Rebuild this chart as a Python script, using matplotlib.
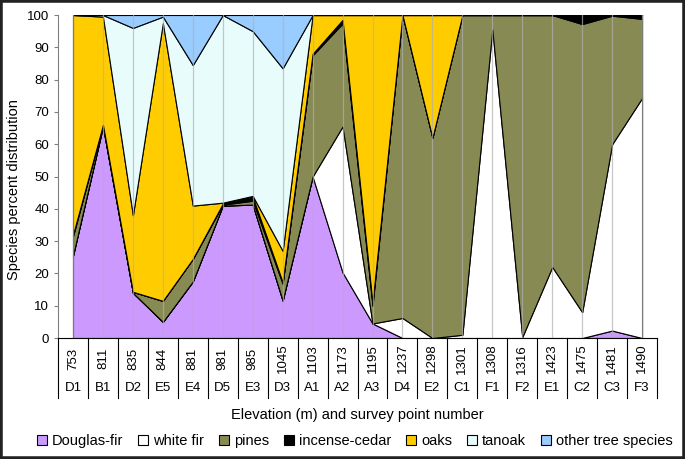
import numpy as np
import matplotlib.pyplot as plt
from matplotlib.patches import Rectangle, Patch
from matplotlib.lines import Line2D

plt.rcParams['font.family'] = ['Liberation Sans', 'DejaVu Sans']

elevation = [753, 811, 835, 844, 881, 981, 985, 1045, 1103, 1173, 1195,
             1237, 1298, 1301, 1308, 1316, 1423, 1475, 1481, 1490]
points = ['D1', 'B1', 'D2', 'E5', 'E4', 'D5', 'E3', 'D3', 'A1', 'A2', 'A3',
          'D4', 'E2', 'C1', 'F1', 'F2', 'E1', 'C2', 'C3', 'F3']

douglas_fir = [25.5, 65.5, 14, 5, 17.5, 41, 41.3, 11.6, 50, 20.3, 4.5,
               0, 0, 0, 0, 0, 0, 0, 2.3, 0]
white_fir = [0, 0, 0, 0, 0, 0, 0, 0, 0, 45.2, 0,
             6.2, 0, 1, 95.5, 0.3, 22, 8, 57.7, 74.3]
pines = [6, 0.5, 0.3, 6.5, 7, 0.3, 1.2, 5.2, 37.5, 31.9, 5.5,
         93.8, 62, 99, 4.5, 99.7, 78, 89.2, 39.8, 24.5]
incense_cedar = [0.5, 0, 0, 0, 0, 0.3, 1.2, 0.5, 0.5, 1.1, 1,
                 0, 0, 0, 0, 0, 0, 2.8, 0.2, 1.2]
oaks = [68, 33.5, 23.7, 86, 16.5, 0.3, 0.3, 9.7, 12, 1.5, 89,
        0, 38, 0, 0, 0, 0, 0, 0, 0]
tanoak = [0, 0.5, 58, 2, 43.5, 58.1, 51, 56.5, 0, 0, 0,
          0, 0, 0, 0, 0, 0, 0, 0, 0]
other = [0, 0, 4, 0.5, 15.5, 0, 5, 16.5, 0, 0, 0,
         0, 0, 0, 0, 0, 0, 0, 0, 0]

names = ['Douglas-fir', 'white fir', 'pines', 'incense-cedar', 'oaks',
         'tanoak', 'other tree species']
colors = ['#cc99ff', '#ffffff', '#878a52', '#000000', '#ffcc00',
          '#e8fcfb', '#99ccff']

fig = plt.figure(figsize=(6.85, 4.59), dpi=100)
ax = fig.add_axes([0.0847, 0.2636, 0.8745, 0.7037])

x = np.arange(len(points))
ax.stackplot(x, douglas_fir, white_fir, pines, incense_cedar, oaks, tanoak,
             other, colors=colors, edgecolor='black', linewidth=0.8)

# vertical gridlines at each point, visible through fills
for xi in x:
    ax.axvline(xi, color='#b0b0b0', lw=0.9, alpha=0.7, zorder=5)

ax.set_xlim(-0.5, len(points) - 0.5)
ax.set_ylim(0, 100)
ax.set_yticks(range(0, 101, 10))
ax.tick_params(axis='y', labelsize=9.5, length=3, color='#808080')
ax.set_xticks([])
for s in ['top', 'right']:
    ax.spines[s].set_visible(False)
ax.spines['left'].set_color('#808080')
ax.spines['bottom'].set_color('black')
ax.set_ylabel('Species percent distribution', fontsize=10.5)
ax.yaxis.set_label_coords(-0.0625, 0.46)

# two-level category axis
trans = ax.get_xaxis_transform()
for i in range(len(points) + 1):
    ax.add_line(Line2D([i - 0.5, i - 0.5], [0, -0.185], transform=trans,
                       color='black', lw=0.8, clip_on=False))
for i in range(len(points)):
    ax.text(i, -0.064, str(elevation[i]), transform=trans, rotation=90,
            ha='center', va='center', fontsize=9.5)
    ax.text(i, -0.155, points[i], transform=trans, ha='center', va='center',
            fontsize=9.5)
ax.text(0.5, -0.237, 'Elevation (m) and survey point number',
        transform=ax.transAxes, ha='center', va='center', fontsize=10.5)

handles = [Patch(facecolor=c, edgecolor='black', lw=0.8) for c in colors]
fig.legend(handles, names, loc='center', bbox_to_anchor=(0.518, 0.039),
           ncol=7, frameon=False, fontsize=10.5, handlelength=0.7,
           handleheight=0.7, handletextpad=0.35, columnspacing=1.0)

fig.patches.append(Rectangle((0, 0), 1, 1, transform=fig.transFigure,
                             fill=False, edgecolor='#222222', lw=4))

fig.savefig('out.png', dpi=100)
